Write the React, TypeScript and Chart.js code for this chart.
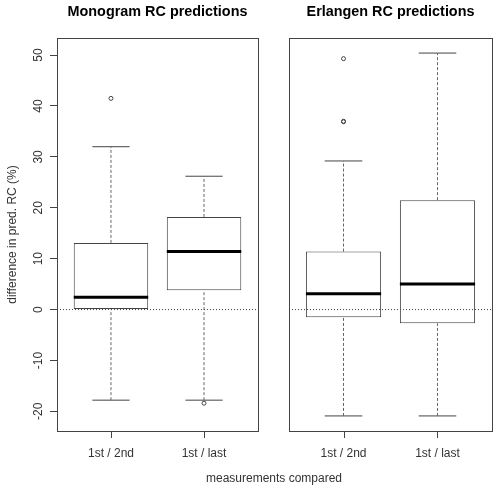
import React, { useEffect, useRef } from 'react';
import { Chart, registerables } from 'chart.js';

Chart.register(...registerables);

// ---- data ----
const categories = ['1st / 2nd', '1st / last'];
const positions = [1, 2];
const yTicks = [-20, -10, 0, 10, 20, 30, 40, 50];
const yMin = -23.86;
const yMax = 53.36;
const xMin = 0.42;
const xMax = 2.58;

const monoTitle = 'Monogram RC predictions';
const monoLow = [-17.8, -17.8];
const monoQ1 = [0.0, 3.8];
const monoMed = [2.4, 11.4];
const monoQ3 = [13.1, 18.2];
const monoHigh = [32.0, 26.2];
const monoOutliers = [[41.5], [-18.4]];

const erlTitle = 'Erlangen RC predictions';
const erlLow = [-20.9, -20.9];
const erlQ1 = [-1.5, -2.7];
const erlMed = [3.1, 5.0];
const erlQ3 = [11.4, 21.5];
const erlHigh = [29.2, 50.4];
const erlOutliers = [[49.3, 36.9, 37.0], []];

const yAxisTitle = 'difference in pred. RC (%)';
const xAxisTitle = 'measurements compared';

const FONT = '"Liberation Sans", Arial, Helvetica, sans-serif';
const LINE = '#444';
const TEXT = '#333';

type Stats = {
  low: number[];
  q1: number[];
  med: number[];
  q3: number[];
  high: number[];
  out: number[][];
};

function buildDatasets(s: Stats): any[] {
  const boxes = positions.map((x, i) => ({ x, y: [s.q1[i], s.q3[i]] }));
  const medians: any[] = [];
  const whiskers: any[] = [];
  const caps: any[] = [];
  const outliers: any[] = [];
  positions.forEach((x, i) => {
    medians.push({ x: x - 0.4, y: s.med[i] }, { x: x + 0.4, y: s.med[i] }, { x: x + 0.4, y: null });
    whiskers.push(
      { x, y: s.q3[i] }, { x, y: s.high[i] }, { x, y: null },
      { x, y: s.low[i] }, { x, y: s.q1[i] }, { x, y: null }
    );
    caps.push(
      { x: x - 0.2, y: s.high[i] }, { x: x + 0.2, y: s.high[i] }, { x: x + 0.2, y: null },
      { x: x - 0.2, y: s.low[i] }, { x: x + 0.2, y: s.low[i] }, { x: x + 0.2, y: null }
    );
    s.out[i].forEach((v) => outliers.push({ x, y: v }));
  });
  const lineBase = { pointRadius: 0, tension: 0, fill: false, spanGaps: false, borderCapStyle: 'butt' };
  return [
    {
      type: 'line', data: [{ x: xMin, y: 0 }, { x: xMax, y: 0 }], borderColor: LINE,
      borderWidth: 1, borderDash: [1, 2], order: 0, ...lineBase,
    },
    { type: 'line', data: medians, borderColor: '#000', borderWidth: 3, order: 1, ...lineBase },
    {
      type: 'bar', data: boxes, backgroundColor: '#fff', borderColor: LINE, borderWidth: 1,
      borderSkipped: false, barPercentage: 0.8, categoryPercentage: 1, order: 2,
    },
    { type: 'line', data: whiskers, borderColor: '#666', borderWidth: 1, borderDash: [3, 2], order: 3, ...lineBase },
    { type: 'line', data: caps, borderColor: LINE, borderWidth: 1, order: 3, ...lineBase },
    {
      type: 'scatter', data: outliers, pointRadius: 2, pointBorderWidth: 1,
      pointBorderColor: LINE, pointBackgroundColor: 'rgba(0,0,0,0)', order: 3,
    },
  ];
}

function makeChart(canvas: HTMLCanvasElement, title: string, s: Stats, showY: boolean, padLeft: number, padRight: number) {
  const decor = {
    id: 'panelDecor',
    afterDraw(chart: any) {
      const { ctx, chartArea: a } = chart;
      ctx.save();
      ctx.strokeStyle = LINE;
      ctx.lineWidth = 1;
      ctx.strokeRect(a.left + 0.5, a.top + 0.5, a.right - a.left, a.bottom - a.top);
      // x tick marks
      const xs = chart.scales.x;
      ctx.beginPath();
      xs.ticks.forEach((t: any) => {
        const px = Math.round(xs.getPixelForValue(t.value)) + 0.5;
        ctx.moveTo(px, a.bottom + 1);
        ctx.lineTo(px, a.bottom + 7);
      });
      ctx.stroke();
      ctx.fillStyle = '#000';
      ctx.font = `bold 14.4px ${FONT}`;
      ctx.textAlign = 'center';
      ctx.textBaseline = 'middle';
      ctx.fillText(title, (a.left + a.right) / 2, 12);
      if (showY) {
        const ys = chart.scales.y;
        ctx.fillStyle = TEXT;
        ctx.font = `12px ${FONT}`;
        ys.ticks.forEach((t: any) => {
          const py = ys.getPixelForValue(t.value);
          ctx.save();
          ctx.translate(a.left - 18, py);
          ctx.rotate(-Math.PI / 2);
          ctx.fillText(String(t.value), 0, 0);
          ctx.restore();
        });
      }
      ctx.restore();
    },
  };

  return new Chart(canvas, {
    type: 'bar',
    data: { datasets: buildDatasets(s) },
    options: {
      animation: false,
      responsive: false,
      events: [],
      layout: { padding: { top: 38, left: padLeft, right: padRight, bottom: 0 } },
      plugins: { legend: { display: false }, tooltip: { enabled: false }, title: { display: false } },
      scales: {
        x: {
          type: 'linear',
          min: xMin,
          max: xMax,
          offset: false,
          afterBuildTicks: (sc: any) => {
            sc.ticks = positions.map((v) => ({ value: v }));
          },
          afterFit: (sc: any) => {
            sc.height = 58;
          },
          grid: { display: false, offset: false, drawTicks: true, tickLength: 8 },
          border: { display: false },
          ticks: {
            callback: (v: any) => categories[positions.indexOf(Number(v))] ?? '',
            font: { family: FONT, size: 12 },
            color: TEXT,
            padding: 7,
            maxRotation: 0,
            minRotation: 0,
            autoSkip: false,
          },
        },
        y: {
          type: 'linear',
          min: yMin,
          max: yMax,
          display: showY,
          afterBuildTicks: (sc: any) => {
            sc.ticks = yTicks.map((v) => ({ value: v }));
          },
          afterFit: (sc: any) => {
            sc.width = showY ? 57 : 0;
          },
          grid: { display: true, offset: false, drawOnChartArea: false, drawTicks: true, tickLength: 7, color: LINE },
          border: { display: false },
          ticks: { display: false },
          title: {
            display: showY,
            text: yAxisTitle,
            font: { family: FONT, size: 12 },
            color: TEXT,
            padding: { top: 5, bottom: 0 },
          },
        },
      },
    } as any,
    plugins: [decor],
  } as any);
}

export default function App() {
  const leftRef = useRef<HTMLCanvasElement>(null);
  const rightRef = useRef<HTMLCanvasElement>(null);

  useEffect(() => {
    const mono: Stats = { low: monoLow, q1: monoQ1, med: monoMed, q3: monoQ3, high: monoHigh, out: monoOutliers };
    const erl: Stats = { low: erlLow, q1: erlQ1, med: erlMed, q3: erlQ3, high: erlHigh, out: erlOutliers };
    const c1 = makeChart(leftRef.current!, monoTitle, mono, true, 0, 8);
    const c2 = makeChart(rightRef.current!, erlTitle, erl, false, 23, 6);
    return () => {
      c1.destroy();
      c2.destroy();
    };
  }, []);

  return (
    <div style={{ position: 'fixed', left: 0, top: 0, width: 498, height: 489, background: '#fff', overflow: 'hidden' }}>
      <canvas ref={leftRef} width={266} height={489} style={{ position: 'absolute', left: 0, top: 0 }} />
      <canvas ref={rightRef} width={232} height={489} style={{ position: 'absolute', left: 266, top: 0 }} />
      <div
        style={{
          position: 'absolute', left: 174, top: 470, width: 200, textAlign: 'center',
          font: `12px ${FONT}`, lineHeight: '16px', color: TEXT,
        }}
      >
        {xAxisTitle}
      </div>
    </div>
  );
}
